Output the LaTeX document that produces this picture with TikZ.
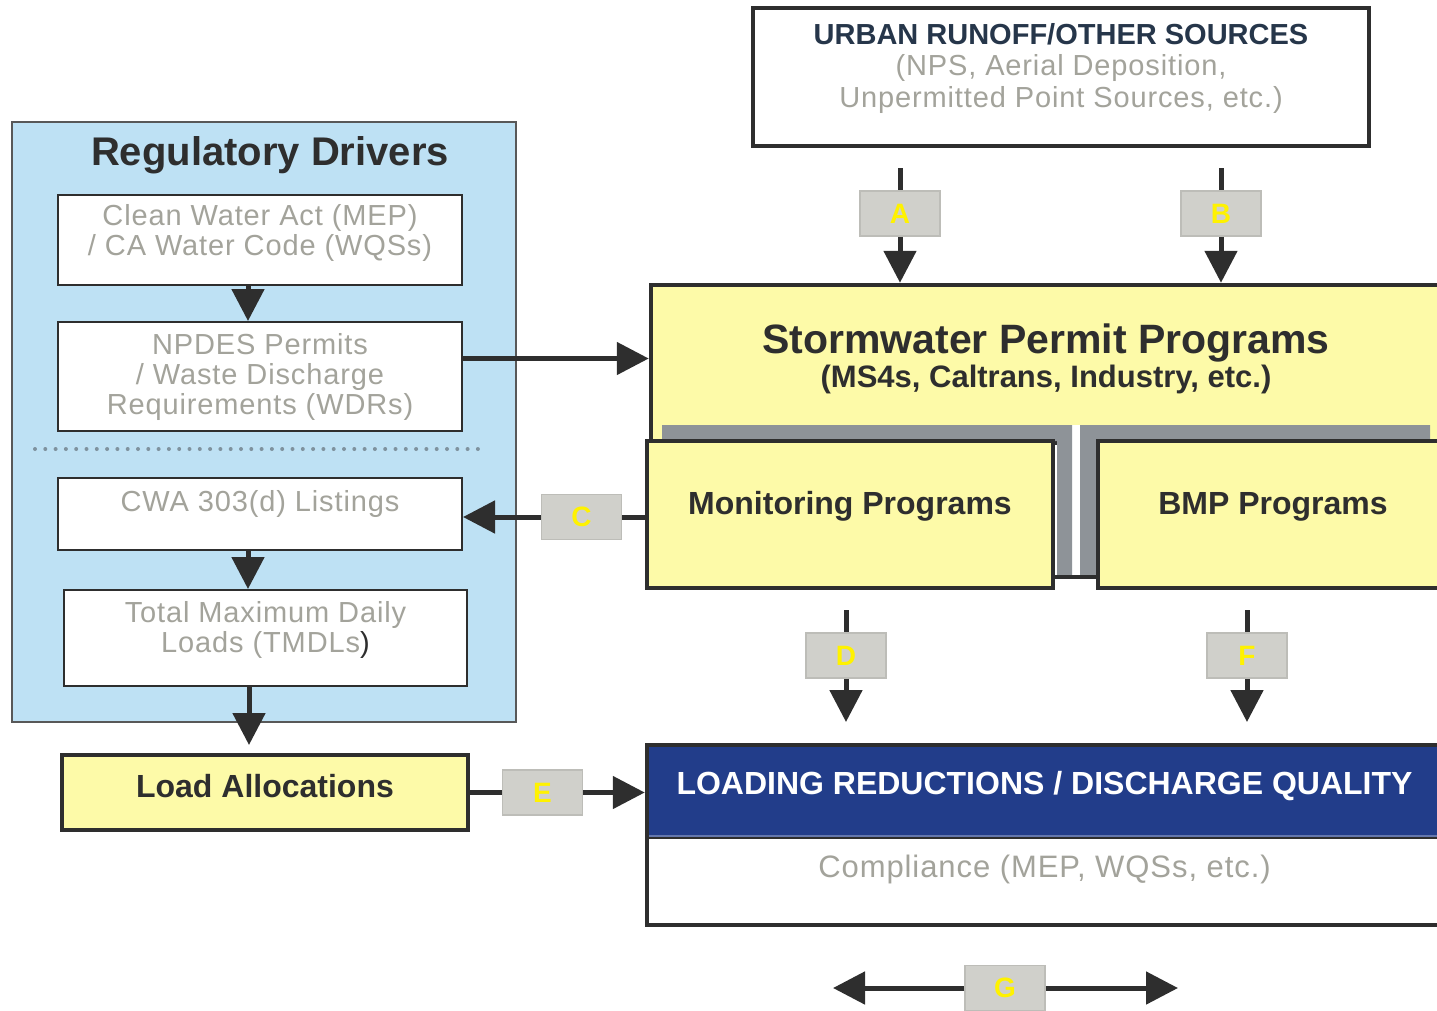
\documentclass[tikz,border=0pt]{standalone}
\usepackage{fontspec}
\setmainfont{Liberation Sans}
\newfontfamily\spacedfont[LetterSpace=3]{Liberation Sans}
\usetikzlibrary{arrows.meta}

\definecolor{panelblue}{HTML}{BEE1F4}
\definecolor{boxyellow}{HTML}{FDFAA8}
\definecolor{headblue}{HTML}{223D8A}
\definecolor{softgray}{HTML}{A3A39B}
\definecolor{inkgray}{HTML}{2E2E2E}
\definecolor{navytext}{HTML}{26364A}
\definecolor{tagfill}{HTML}{D0D0CB}
\definecolor{tagline}{HTML}{BDBDB8}
\definecolor{barsteel}{HTML}{8E9398}
\definecolor{dotblue}{HTML}{7F929E}

\tikzset{
  graytext/.style={text=softgray, font=\spacedfont\fontsize{29}{30}\selectfont, align=center},
  whitebox/.style={draw=inkgray, line width=2pt, fill=white, inner sep=0pt, graytext},
  heavybox/.style={draw=inkgray, line width=4.5pt, inner sep=0pt},
  yellowbox/.style={heavybox, fill=boxyellow, text=inkgray, font=\bfseries\fontsize{32}{34}\selectfont},
  tag/.style={draw=tagline, line width=1.5pt, fill=tagfill, minimum width=80pt, minimum height=45pt,
    inner sep=0pt, text=yellow, font=\bfseries\fontsize{28}{28}\selectfont},
  flow/.style={draw=inkgray, line width=5pt, -{Triangle[width=32pt,length=32pt]}},
  link/.style={draw=inkgray, line width=5pt}
}

\begin{document}
\begin{tikzpicture}[x=1pt, y=-1pt]
  \useasboundingbox (0,0) rectangle (1437,1010);
  \clip (0,0) rectangle (1437,1010);

  % Regulatory drivers panel
  \node[draw=inkgray!80, line width=2pt, fill=panelblue, minimum width=504pt, minimum height=600pt] (panel) at (264,422) {};
  \node[text=inkgray, font=\bfseries\fontsize{40}{44}\selectfont] (paneltitle) at (270,155) {Regulatory Drivers};
  \node[whitebox, minimum width=404pt, minimum height=90pt, text depth=20pt] (cwa) at (260,240)
    {Clean Water Act (MEP)\\/ CA Water Code (WQSs)};
  \node[whitebox, minimum width=404pt, minimum height=109pt] (npdes) at (260,376.5)
    {NPDES Permits\\/ Waste Discharge\\Requirements (WDRs)};
  \draw[dotblue, line width=4pt, line cap=round, dash pattern=on 0pt off 10.3pt] (35,449) -- (485,449);
  \node[whitebox, minimum width=404pt, minimum height=72pt] (listing) at (260,514) {};
  \node[graytext] (listingtext) at (260,504) {CWA 303(d) Listings};
  \node[whitebox, minimum width=403pt, minimum height=96pt, text depth=22pt] (tmdl) at (265.5,638)
    {Total Maximum Daily\\Loads (TMDLs\textcolor{inkgray}{)}};
  \node[yellowbox, minimum width=406pt, minimum height=75pt, text depth=14pt] (load) at (265,792.5) {Load Allocations};

  % Sources and permit programs
  \node[heavybox, fill=white, minimum width=616pt, minimum height=138pt, graytext, text depth=24pt,
    font=\spacedfont\fontsize{29}{31.5}\selectfont] (urban) at (1061,77)
    {{\normalfont\bfseries\color{navytext}URBAN RUNOFF/OTHER SOURCES}\\(NPS, Aerial Deposition,\\Unpermitted Point Sources, etc.)};
  \node[yellowbox, minimum width=791pt, minimum height=158pt] (storm) at (1046.5,364) {};
  \node[text=inkgray, font=\bfseries\fontsize{41}{44}\selectfont] (stormtitle) at (1046,343) {Stormwater Permit Programs};
  \node[text=inkgray, font=\bfseries\fontsize{31}{34}\selectfont] (stormsub) at (1046,379) {(MS4s, Caltrans, Industry, etc.)};
  \fill[white] (1072,425) rectangle (1080,578);
  \fill[barsteel] (662,425) rectangle (1072,441) (1057,425) rectangle (1072,576);
  \fill[barsteel] (1080,425) rectangle (1430,441) (1080,425) rectangle (1096,576);
  \draw[inkgray, line width=4pt] (1053,577) -- (1098,577);
  \node[yellowbox, minimum width=406pt, minimum height=147pt, text depth=23pt] (monitor) at (850,514.5) {Monitoring Programs};
  \node[yellowbox, minimum width=344pt, minimum height=147pt, text depth=23pt] (bmp) at (1270,514.5)
    {\makebox[0pt]{\hspace{6pt}BMP Programs}};

  % Loading reductions
  \node[heavybox, fill=headblue, text=white, font=\bfseries\fontsize{32}{34}\selectfont,
    minimum width=795pt, minimum height=92pt, text depth=17pt] (loading) at (1044.5,791)
    {LOADING REDUCTIONS / DISCHARGE QUALITY};
  \node[heavybox, fill=white, graytext, font=\spacedfont\fontsize{31}{32}\selectfont,
    minimum width=795pt, minimum height=88pt, text depth=29pt] (compliance) at (1044.5,881)
    {Compliance (MEP, WQSs, etc.)};
  \draw[headblue!70, line width=1.5pt] (649,836) -- (1437,836);

  % Pathway tags
  \node[tag] (tagA) at (900,213.5) {A};
  \node[tag] (tagB) at (1221,213.5) {B};
  \node[tag] (tagC) at (581.5,517) {C};
  \node[tag] (tagD) at (846,655.5) {D};
  \node[tag] (tagF) at (1247,655.5) {F};
  \node[tag] (tagE) at (542.5,792.5) {E};
  \node[tag] (tagG) at (1005,988) {G};

  % Connectors
  \coordinate (srcA) at (900,168);
  \coordinate (srcB) at (1221,168);
  \coordinate (srcD) at (846,610);
  \coordinate (srcF) at (1247,610);
  \coordinate (endD) at (846,722);
  \coordinate (endF) at (1247,722);
  \coordinate (loadtop) at (249,745);
  \coordinate (leftG) at (833,988);
  \coordinate (rightG) at (1178,988);
  \draw[link] (srcA) -- (tagA.north);
  \draw[flow] (tagA.south) -- (tagA.south |- storm.north);
  \draw[link] (srcB) -- (tagB.north);
  \draw[flow] (tagB.south) -- (tagB.south |- storm.north);
  \draw[flow] ([yshift=18pt]npdes.east) -- ([yshift=18pt]npdes.east -| storm.west);
  \draw[flow] ([xshift=-12pt]cwa.south) -- ([xshift=-12pt]cwa.south |- npdes.north);
  \draw[flow] ([xshift=-12pt]listing.south) -- ([xshift=-12pt]listing.south |- tmdl.north);
  \draw[flow] (tmdl.south -| loadtop) -- (loadtop);
  \draw[link] (tagC.east -| monitor.west) -- (tagC.east);
  \draw[flow] (tagC.west) -- (tagC.west -| listing.east);
  \draw[link] (srcD) -- (tagD.north);
  \draw[flow] (tagD.south) -- (endD);
  \draw[link] (srcF) -- (tagF.north);
  \draw[flow] (tagF.south) -- (endF);
  \draw[link] (load.east) -- (tagE.west);
  \draw[flow] (tagE.east) -- (tagE.east -| loading.west);
  \draw[flow] (tagG.west) -- (leftG);
  \draw[flow] (tagG.east) -- (rightG);
\end{tikzpicture}
\end{document}
